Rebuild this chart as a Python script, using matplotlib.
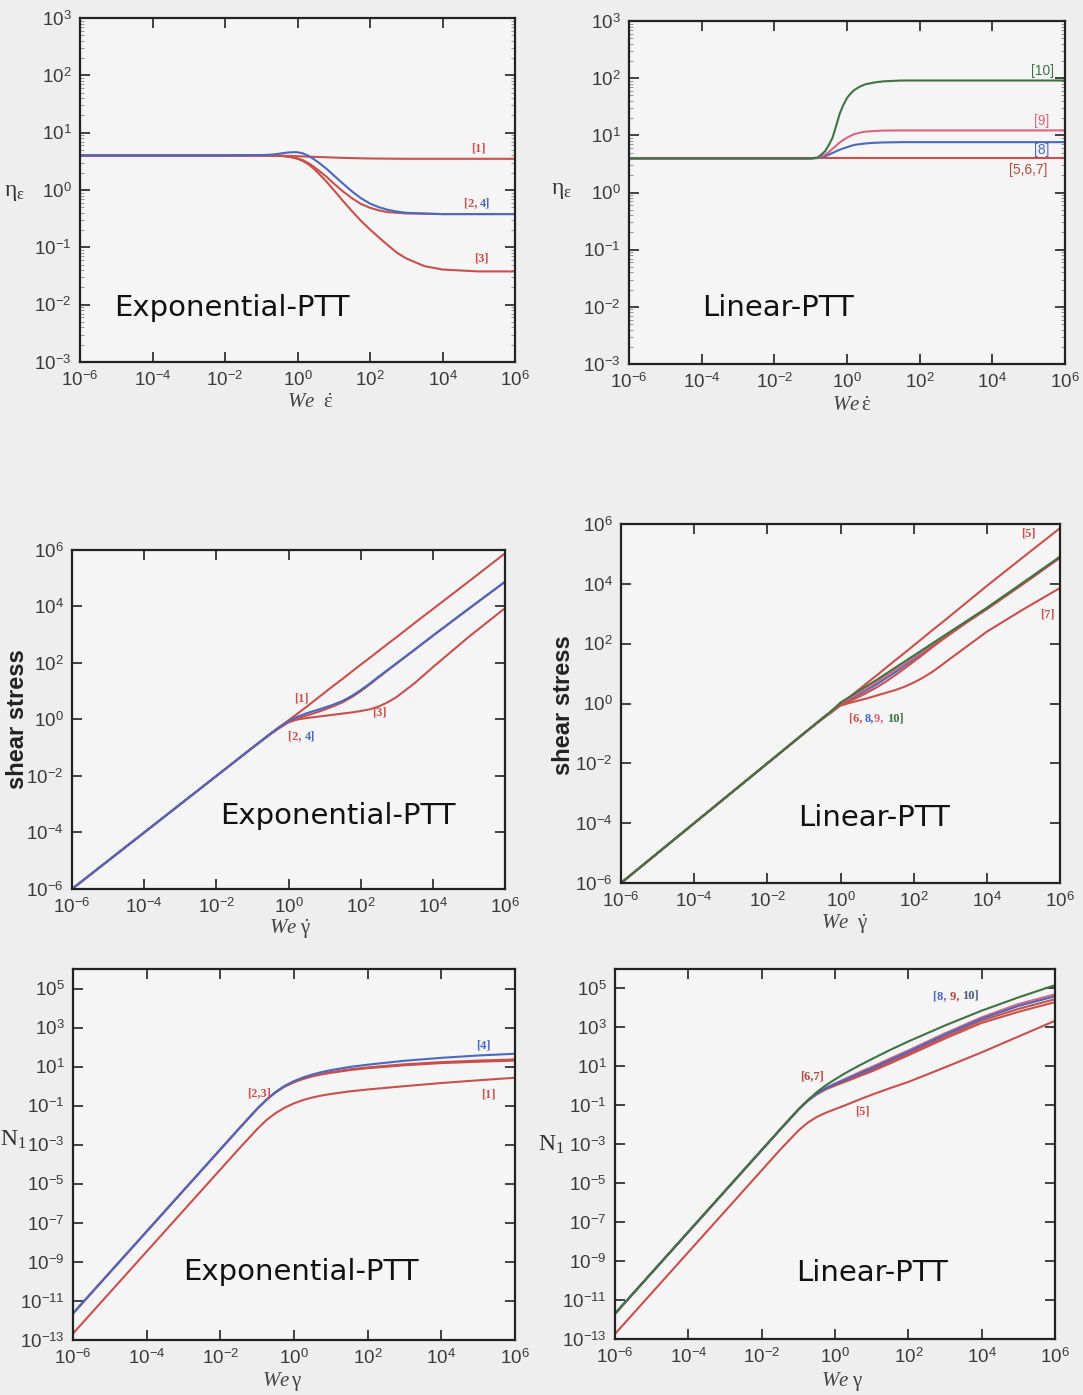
import numpy as np
import matplotlib.pyplot as plt
from matplotlib.ticker import FixedLocator, FuncFormatter, LogLocator, NullLocator

plt.rcParams['font.family'] = 'Liberation Sans'
plt.rcParams['mathtext.fontset'] = 'custom'
plt.rcParams['mathtext.rm'] = 'Liberation Sans'
plt.rcParams['mathtext.it'] = 'Liberation Serif:italic'
plt.rcParams['mathtext.sf'] = 'Liberation Serif'

# ---- data (x as log10 exponents) ----
# top row: extensional viscosity
x_ext = [-6, -2, -1, -0.7, -0.5, -0.3, -0.1, 0, 0.15, 0.3, 0.45, 0.6, 0.8, 1, 1.25, 1.5, 1.75,
         2, 2.25, 2.5, 2.75, 3, 3.5, 4, 5, 6]
eta_exp_1 = [4.0, 4.0, 4.0, 3.99, 3.97, 3.94, 3.9, 3.88, 3.85, 3.82, 3.79, 3.76, 3.72, 3.68, 3.64,
             3.6, 3.57, 3.55, 3.53, 3.52, 3.51, 3.5, 3.5, 3.5, 3.5, 3.5]
eta_exp_2 = [4.0, 4.0, 4.0, 3.98, 3.95, 3.85, 3.7, 3.55, 3.3, 2.95, 2.55, 2.15, 1.7, 1.3, 0.95,
             0.72, 0.57, 0.49, 0.44, 0.41, 0.4, 0.39, 0.385, 0.38, 0.38, 0.38]
eta_exp_3 = [4.0, 4.0, 4.0, 3.98, 3.95, 3.85, 3.65, 3.5, 3.2, 2.8, 2.35, 1.9, 1.4, 1.0, 0.65,
             0.43, 0.29, 0.205, 0.148, 0.108, 0.08, 0.064, 0.047, 0.041, 0.038, 0.038]
eta_exp_4 = [4.0, 4.0, 4.05, 4.15, 4.3, 4.48, 4.58, 4.55, 4.35, 3.95, 3.45, 2.95, 2.35, 1.8, 1.3,
             0.95, 0.72, 0.58, 0.5, 0.45, 0.42, 0.4, 0.39, 0.38, 0.38, 0.38]

x_lin = [-6, -1, -0.8, -0.6, -0.5, -0.4, -0.3, -0.2, -0.1, 0, 0.1, 0.2, 0.35, 0.5, 0.75, 1, 1.5, 2, 6]
eta_lin_567 = [3.94, 3.94, 3.94, 3.94, 3.94, 3.94, 3.94, 3.94, 3.94, 3.94, 3.94, 3.94, 3.94, 3.94,
               3.94, 3.94, 3.94, 3.94, 3.94]
eta_lin_8 = [3.94, 3.94, 4.0, 4.3, 4.6, 4.9, 5.25, 5.6, 5.9, 6.2, 6.5, 6.8, 7.0, 7.2, 7.4, 7.5, 7.6, 7.6, 7.6]
eta_lin_9 = [3.94, 3.94, 4.05, 4.6, 5.1, 5.8, 6.6, 7.5, 8.3, 9.1, 9.8, 10.5, 11.1, 11.6, 11.9, 12.1,
             12.2, 12.2, 12.2]
eta_lin_10 = [3.94, 3.94, 4.1, 5.3, 6.8, 9.0, 14.5, 24.0, 34.0, 45.0, 54.0, 62.0, 71.0, 78.0, 84.0,
              88.0, 91.0, 91.0, 91.0]

# middle row: shear stress (log10)
x_sh = [-6, -2, -1, -0.5, -0.25, 0, 0.25, 0.5, 0.75, 1, 1.25, 1.5, 1.75, 2, 2.25, 2.5, 2.75, 3,
        3.5, 4, 5, 6]
tau_exp_1 = [-6, -2, -1, -0.5, -0.26, -0.03, 0.21, 0.45, 0.7, 0.95, 1.2, 1.44, 1.69, 1.94, 2.18,
             2.43, 2.68, 2.92, 3.42, 3.91, 4.89, 5.88]
tau_exp_2 = [-6, -2, -1, -0.51, -0.29, -0.09, 0.04, 0.14, 0.24, 0.35, 0.47, 0.61, 0.79, 1.0, 1.24,
             1.49, 1.74, 1.98, 2.47, 2.96, 3.92, 4.87]
tau_exp_3 = [-6, -2, -1, -0.52, -0.3, -0.1, 0.0, 0.05, 0.09, 0.13, 0.17, 0.21, 0.25, 0.3, 0.36,
             0.46, 0.61, 0.8, 1.29, 1.85, 2.93, 3.94]
tau_exp_4 = [-6, -2, -1, -0.5, -0.27, -0.06, 0.1, 0.22, 0.32, 0.42, 0.53, 0.66, 0.83, 1.04, 1.27,
             1.52, 1.76, 2.0, 2.48, 2.97, 3.93, 4.88]

tau_lin_5 = [-6, -2, -1, -0.5, -0.26, -0.02, 0.22, 0.46, 0.71, 0.95, 1.2, 1.45, 1.69, 1.94, 2.19,
             2.44, 2.68, 2.93, 3.43, 3.93, 4.9, 5.86]
tau_lin_6 = [-6, -2, -1, -0.51, -0.28, -0.04, 0.08, 0.22, 0.38, 0.55, 0.74, 0.95, 1.17, 1.4, 1.63,
             1.87, 2.1, 2.32, 2.75, 3.15, 4.0, 4.87]
tau_lin_7 = [-6, -2, -1, -0.52, -0.3, -0.07, 0.02, 0.1, 0.18, 0.27, 0.36, 0.45, 0.56, 0.7, 0.86,
             1.05, 1.27, 1.5, 1.95, 2.4, 3.15, 3.86]
tau_lin_8 = [-6, -2, -1, -0.51, -0.27, -0.02, 0.13, 0.3, 0.47, 0.65, 0.85, 1.05, 1.26, 1.48, 1.7,
             1.92, 2.14, 2.35, 2.77, 3.17, 4.02, 4.88]
tau_lin_9 = [-6, -2, -1, -0.5, -0.26, 0.0, 0.16, 0.35, 0.53, 0.72, 0.92, 1.12, 1.32, 1.53, 1.74,
             1.95, 2.16, 2.37, 2.78, 3.18, 4.03, 4.89]
tau_lin_10 = [-6, -2, -1, -0.5, -0.25, 0.03, 0.22, 0.42, 0.61, 0.8, 1.0, 1.2, 1.4, 1.6, 1.8, 2.0,
              2.2, 2.4, 2.8, 3.2, 4.05, 4.91]

# bottom row: first normal stress difference (log10)
x_n1 = [-6, -4, -2, -1.5, -1, -0.75, -0.5, -0.25, 0, 0.25, 0.5, 0.75, 1, 1.5, 2, 3, 4, 5, 6]
n1_exp_1 = [-12.67, -8.47, -4.27, -3.22, -2.2, -1.74, -1.38, -1.1, -0.88, -0.71, -0.58, -0.48,
            -0.4, -0.27, -0.17, 0.0, 0.16, 0.3, 0.43]
n1_exp_2 = [-11.64, -7.44, -3.24, -2.19, -1.16, -0.7, -0.31, 0.0, 0.22, 0.4, 0.53, 0.64, 0.72,
            0.86, 0.96, 1.12, 1.23, 1.31, 1.37]
n1_exp_3 = [-11.64, -7.44, -3.24, -2.19, -1.16, -0.7, -0.32, -0.02, 0.2, 0.37, 0.5, 0.6, 0.68,
            0.82, 0.92, 1.07, 1.18, 1.25, 1.31]
n1_exp_4 = [-11.64, -7.44, -3.24, -2.19, -1.16, -0.7, -0.3, 0.02, 0.26, 0.45, 0.6, 0.72, 0.82,
            0.98, 1.1, 1.3, 1.45, 1.57, 1.66]

n1_lin_5 = [-12.74, -8.54, -4.34, -3.29, -2.3, -1.9, -1.6, -1.38, -1.2, -1.02, -0.83, -0.64,
            -0.46, -0.12, 0.2, 0.95, 1.72, 2.53, 3.34]
n1_lin_6 = [-11.7, -7.5, -3.3, -2.25, -1.22, -0.77, -0.42, -0.15, 0.05, 0.24, 0.43, 0.63, 0.82,
            1.24, 1.66, 2.53, 3.35, 3.95, 4.45]
n1_lin_7 = [-11.7, -7.5, -3.3, -2.25, -1.22, -0.78, -0.44, -0.18, 0.01, 0.19, 0.37, 0.56, 0.74,
            1.15, 1.57, 2.43, 3.23, 3.8, 4.3]
n1_lin_8 = [-11.7, -7.5, -3.3, -2.25, -1.22, -0.76, -0.41, -0.12, 0.09, 0.29, 0.5, 0.7, 0.9,
            1.33, 1.75, 2.63, 3.45, 4.1, 4.6]
n1_lin_9 = [-11.7, -7.5, -3.3, -2.25, -1.22, -0.76, -0.4, -0.1, 0.12, 0.34, 0.55, 0.77, 0.97,
            1.4, 1.82, 2.7, 3.52, 4.2, 4.7]
n1_lin_10 = [-11.7, -7.5, -3.3, -2.25, -1.22, -0.75, -0.33, 0.03, 0.33, 0.62, 0.88, 1.13, 1.37,
             1.84, 2.28, 3.1, 3.86, 4.54, 5.17]

RED = '#c8504c'
BLUE = '#4a68bf'
GREEN = '#3e7442'
PINK = '#d9657e'
LRED = '#b24a3c'

W, H = 1083, 1395
fig = plt.figure(figsize=(W / 100, H / 100), dpi=100, facecolor='#eeeeee')


def make_axes(L, R, T, B, ylim, yticks, yminor=False):
    ax = fig.add_axes([L / W, 1 - B / H, (R - L) / W, (B - T) / H], facecolor='#f5f5f5')
    ax.set_xscale('log')
    ax.set_yscale('log')
    ax.set_xlim(1e-6, 1e6)
    ax.set_ylim(*ylim)
    ax.xaxis.set_major_locator(FixedLocator([10.0 ** e for e in range(-6, 7, 2)]))
    ax.yaxis.set_major_locator(FixedLocator([10.0 ** e for e in yticks]))
    fmt = FuncFormatter(lambda v, p: r'$10^{%d}$' % int(round(np.log10(v))))
    ax.xaxis.set_major_formatter(fmt)
    ax.yaxis.set_major_formatter(fmt)
    ax.xaxis.set_minor_locator(NullLocator())
    if yminor:
        ax.yaxis.set_minor_locator(LogLocator(base=10, subs=np.arange(2, 10), numticks=20))
    else:
        ax.yaxis.set_minor_locator(NullLocator())
    ax.tick_params(which='major', direction='in', length=7, width=1.2, top=True, right=True,
                   labelsize=13.5, colors='#222222', labelcolor='#3a3a3a', pad=6)
    ax.tick_params(which='minor', direction='in', length=3, width=0.6, top=True, right=True,
                   colors='#888888')
    for s in ax.spines.values():
        s.set_linewidth(1.6)
        s.set_color('#222222')
    return ax


def curve(ax, xs, ys, color, log_y=True):
    xs = 10.0 ** np.array(xs)
    ys = 10.0 ** np.array(ys) if log_y else np.array(ys)
    ax.plot(xs, ys, color=color, lw=1.5, solid_capstyle='butt')


def tag(ax, lx, ly, parts, size=9, family='Liberation Serif', ha='center', weight='bold'):
    t = ax.text(10 ** lx, 10 ** ly, parts[0][0], color=parts[0][1], fontsize=size,
                family=family, ha=ha if len(parts) == 1 else 'left', va='center', weight=weight)
    for s, c in parts[1:]:
        t = ax.annotate(s, xy=(1, 0), xycoords=t, color=c, fontsize=size, family=family,
                        ha='left', va='bottom', weight=weight)


def model_name(ax, lx, ly, s):
    ax.text(10 ** lx, 10 ** ly, s, fontsize=21, family='DejaVu Sans', color='#111111',
            ha='left', va='center')


def xlab(ax, x, y, s):
    ax.text(x, y, s, transform=ax.transAxes, fontsize=15, color='#444444',
            ha='center', va='center')


def ylab(ax, x, y, s, **kw):
    ax.text(x, y, s, transform=ax.transAxes, ha='center', va='center', **kw)


# ---- panel 1: exponential PTT, extensional viscosity ----
ax1 = make_axes(80, 515, 18, 362, (1e-3, 1e3), range(-3, 4), yminor=True)
curve(ax1, x_ext, eta_exp_1, RED, log_y=False)
curve(ax1, x_ext, eta_exp_3, RED, log_y=False)
curve(ax1, x_ext, eta_exp_2, RED, log_y=False)
curve(ax1, x_ext, eta_exp_4, BLUE, log_y=False)
tag(ax1, 4.99, 0.73, [('[1]', RED)])
tag(ax1, 4.58, -0.23, [('[2, ', RED), ('4]', BLUE)])
tag(ax1, 5.08, -1.19, [('[3]', RED)])
model_name(ax1, -5.07, -2.06, 'Exponential-PTT')
xlab(ax1, 0.529, -0.119, r'$We\ \ \mathsf{\dot{\varepsilon}}$')
ylab(ax1, -0.15, 0.494, r'$\mathsf{\eta_{\varepsilon}}$', fontsize=17, color='#333333')

# ---- panel 2: linear PTT, extensional viscosity ----
ax2 = make_axes(629, 1065, 21, 364, (1e-3, 1e3), range(-3, 4), yminor=True)
curve(ax2, x_lin, eta_lin_567, RED, log_y=False)
curve(ax2, x_lin, eta_lin_8, BLUE, log_y=False)
curve(ax2, x_lin, eta_lin_9, PINK, log_y=False)
curve(ax2, x_lin, eta_lin_10, GREEN, log_y=False)
tag(ax2, 5.37, 2.12, [('[10]', GREEN)], size=10, family='Liberation Sans', weight='normal')
tag(ax2, 5.37, 1.25, [('[9]', PINK)], size=10, family='Liberation Sans', weight='normal')
tag(ax2, 5.37, 0.74, [('[8]', BLUE)], size=10, family='Liberation Sans', weight='normal')
tag(ax2, 5.0, 0.385, [('[5,6,7]', LRED)], size=10, family='Liberation Sans', weight='normal')
model_name(ax2, -3.99, -2.02, 'Linear-PTT')
xlab(ax2, 0.511, -0.12, r'$We\,\mathsf{\dot{\varepsilon}}$')
ylab(ax2, -0.155, 0.507, r'$\mathsf{\eta_{\varepsilon}}$', fontsize=17, color='#333333')

# ---- panel 3: exponential PTT, shear stress ----
ax3 = make_axes(72, 505, 550, 889, (1e-6, 1e6), range(-6, 7, 2))
curve(ax3, x_sh, tau_exp_1, RED)
curve(ax3, x_sh, tau_exp_3, RED)
curve(ax3, x_sh, tau_exp_2, RED)
curve(ax3, x_sh, tau_exp_4, BLUE)
tag(ax3, 0.36, 0.75, [('[1]', RED)])
tag(ax3, 0.0, -0.6, [('[2, ', RED), ('4]', BLUE)])
tag(ax3, 2.51, 0.25, [('[3]', RED)])
model_name(ax3, -1.89, -3.43, 'Exponential-PTT')
xlab(ax3, 0.503, -0.118, r'$We\ \mathsf{\dot{\gamma}}$')
ylab(ax3, -0.125, 0.5, 'shear stress', fontsize=17, weight='bold', rotation=90,
     color='#222222', family='Liberation Sans')

# ---- panel 4: linear PTT, shear stress ----
ax4 = make_axes(621, 1060, 524, 883, (1e-6, 1e6), range(-6, 7, 2))
curve(ax4, x_sh, tau_lin_5, RED)
curve(ax4, x_sh, tau_lin_7, RED)
curve(ax4, x_sh, tau_lin_8, BLUE)
curve(ax4, x_sh, tau_lin_9, PINK)
curve(ax4, x_sh, tau_lin_6, RED)
curve(ax4, x_sh, tau_lin_10, GREEN)
tag(ax4, 5.13, 5.69, [('[5]', RED)])
tag(ax4, 5.65, 2.96, [('[7]', RED)])
tag(ax4, 0.22, -0.49, [('[6, ', RED), ('8,', BLUE), ('9, ', PINK), ('10]', GREEN)])
model_name(ax4, -1.17, -3.83, 'Linear-PTT')
xlab(ax4, 0.51, -0.115, r'$We\ \ \mathsf{\dot{\gamma}}$')
ylab(ax4, -0.13, 0.496, 'shear stress', fontsize=17, weight='bold', rotation=90,
     color='#222222', family='Liberation Sans')

# ---- panel 5: exponential PTT, N1 ----
ax5 = make_axes(73, 515, 969, 1340, (1e-13, 1e6), range(-13, 6, 2))
curve(ax5, x_n1, n1_exp_1, RED)
curve(ax5, x_n1, n1_exp_3, RED)
curve(ax5, x_n1, n1_exp_2, RED)
curve(ax5, x_n1, n1_exp_4, BLUE)
tag(ax5, 5.15, 2.09, [('[4]', BLUE)])
tag(ax5, -0.94, -0.34, [('[2,3]', RED)])
tag(ax5, 5.29, -0.43, [('[1]', RED)])
model_name(ax5, -3.0, -9.5, 'Exponential-PTT')
xlab(ax5, 0.473, -0.113, r'$We\,\mathsf{\gamma}$')
ylab(ax5, -0.135, 0.54, r'$\mathsf{N_1}$', fontsize=17, color='#333333')

# ---- panel 6: linear PTT, N1 ----
ax6 = make_axes(615, 1055, 969, 1339, (1e-13, 1e6), range(-13, 6, 2))
curve(ax6, x_n1, n1_lin_5, RED)
curve(ax6, x_n1, n1_lin_7, RED)
curve(ax6, x_n1, n1_lin_6, RED)
curve(ax6, x_n1, n1_lin_9, PINK)
curve(ax6, x_n1, n1_lin_8, BLUE)
curve(ax6, x_n1, n1_lin_10, GREEN)
tag(ax6, 2.67, 4.62, [('[8, ', BLUE), ('9, ', LRED), ('10]', '#4a5a7a')])
tag(ax6, -0.62, 0.51, [('[6,7]', LRED)])
tag(ax6, 0.74, -1.3, [('[5]', RED)])
model_name(ax6, -1.05, -9.6, 'Linear-PTT')
xlab(ax6, 0.516, -0.116, r'$We\ \mathsf{\gamma}$')
ylab(ax6, -0.145, 0.524, r'$\mathsf{N_1}$', fontsize=17, color='#333333')

fig.savefig('out.png', dpi=100, facecolor=fig.get_facecolor())
